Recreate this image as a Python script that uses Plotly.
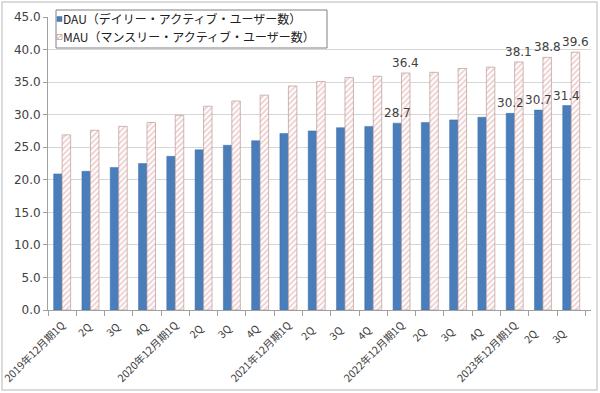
import plotly.graph_objects as go

categories = ["2019年12月期1Q", "2Q ", "3Q ", "4Q ",
              "2020年12月期1Q", "2Q  ", "3Q  ", "4Q  ",
              "2021年12月期1Q", "2Q   ", "3Q   ", "4Q   ",
              "2022年12月期1Q", "2Q    ", "3Q    ", "4Q    ",
              "2023年12月期1Q", "2Q     ", "3Q     "]
dau = [20.9, 21.3, 21.9, 22.5, 23.6, 24.6, 25.3, 26.0, 27.1, 27.5, 28.0, 28.2,
       28.7, 28.8, 29.2, 29.6, 30.2, 30.7, 31.4]
mau = [26.9, 27.6, 28.2, 28.8, 29.9, 31.3, 32.1, 33.0, 34.4, 35.1, 35.7, 35.9,
       36.4, 36.5, 37.1, 37.3, 38.1, 38.8, 39.6]
labeled = [12, 16, 17, 18]
dau_name = "DAU（デイリー・アクティブ・ユーザー数）"
mau_name = "MAU（マンスリー・アクティブ・ユーザー数）"

font_main = "DejaVu Sans, Noto Sans CJK JP, sans-serif"
font_jp = "Noto Sans CJK JP, DejaVu Sans, sans-serif"

l, r, t, b = 48, 9, 17, 83
W, H = 600, 393
pw, ph = W - l - r, H - t - b
bargap = 0.4
cat_w = pw / len(categories)
bar_w = cat_w * (1 - bargap) / 2

fig = go.Figure()
fig.add_trace(go.Bar(
    x=categories, y=dau, name=dau_name,
    marker=dict(color="#4a7ebb", line=dict(color="#3d6ea8", width=0.5)),
))
fig.add_trace(go.Bar(
    x=categories, y=mau, name=mau_name,
    marker=dict(color="white", line=dict(color="#b89a9a", width=0.7),
                pattern=dict(shape="/", fgcolor="#dc9c9c", bgcolor="white", size=4, solidity=0.45)),
))

annotations = []
for i in labeled:
    for vals, sh in ((dau, -bar_w / 2), (mau, bar_w / 2)):
        annotations.append(dict(
            x=categories[i], y=vals[i], xref="x", yref="y",
            text=f"{vals[i]:.1f}", showarrow=False,
            xanchor="center", yanchor="bottom", xshift=sh, yshift=1,
            font=dict(size=12, color="#404040", family=font_main),
        ))

def px(xp):
    return (xp - l) / pw

def py(yp):
    return (H - b - yp) / ph

# custom legend
annotations.append(dict(x=px(62), y=py(18.5), xref="paper", yref="paper", text=dau_name,
                        showarrow=False, xanchor="left", yanchor="middle", borderpad=0,
                        font=dict(size=12, family=font_jp, color="#202020")))
annotations.append(dict(x=px(62), y=py(36.5), xref="paper", yref="paper", text=mau_name,
                        showarrow=False, xanchor="left", yanchor="middle", borderpad=0,
                        font=dict(size=12, family=font_jp, color="#202020")))

shapes = [
    dict(type="rect", xref="paper", yref="paper",
         x0=px(2), x1=px(597), y0=py(390), y1=py(2),
         line=dict(color="#d0d0d0", width=1.5), fillcolor="rgba(0,0,0,0)", layer="below"),
    dict(type="rect", xref="paper", yref="paper",
         x0=px(56), x1=px(327), y0=py(48), y1=py(10),
         line=dict(color="#808080", width=1), fillcolor="white", layer="above"),
    dict(type="rect", xref="paper", yref="paper",
         x0=px(57), x1=px(62), y0=py(21.5), y1=py(16.5),
         line=dict(color="#3d6ea8", width=0.5), fillcolor="#4a7ebb", layer="above"),
    dict(type="rect", xref="paper", yref="paper",
         x0=px(57), x1=px(62), y0=py(39.5), y1=py(34.5),
         line=dict(color="#b89a9a", width=0.8), fillcolor="white", layer="above"),
    dict(type="line", xref="paper", yref="paper",
         x0=px(57.5), x1=px(61.5), y0=py(39), y1=py(35),
         line=dict(color="#dc9c9c", width=1), layer="above"),
]

fig.update_layout(
    width=W, height=H,
    margin=dict(l=l, r=r, t=t, b=b, autoexpand=False),
    barmode="group", bargap=bargap, bargroupgap=0.0,
    paper_bgcolor="white", plot_bgcolor="white",
    font=dict(family=font_main, size=12, color="#404040"),
    showlegend=False,
    xaxis=dict(type="category", tickangle=-45, showgrid=False, automargin=False,
               showline=True, linecolor="#a0a0a0", linewidth=1,
               ticks="outside", tickson="boundaries", ticklen=5, tickcolor="#a0a0a0",
               ticklabelstandoff=4,
               tickfont=dict(size=10.5, family=font_jp, color="#404040")),
    yaxis=dict(range=[0, 45], dtick=5, tickformat=".1f", automargin=False,
               showgrid=True, gridcolor="#d6d6d6", gridwidth=1,
               showline=True, linecolor="#a0a0a0", linewidth=1,
               ticks="outside", ticklen=4, tickcolor="#a0a0a0",
               zeroline=False,
               tickfont=dict(size=12, color="#404040")),
    shapes=shapes,
    annotations=annotations,
)

fig.write_html("out.html", post_script="document.body.style.margin='0';",
               config={"displayModeBar": False})
